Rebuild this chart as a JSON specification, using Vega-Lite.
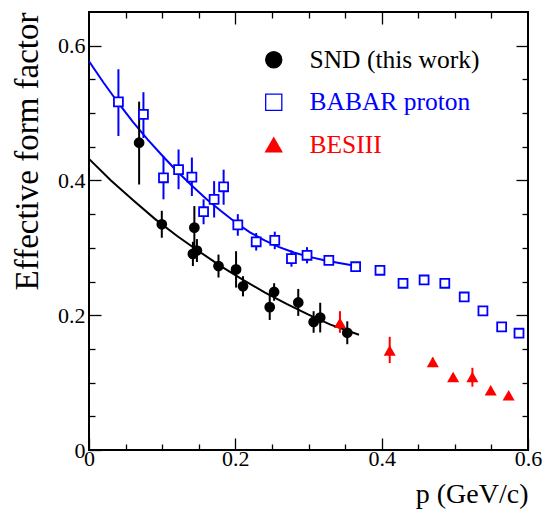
{
  "$schema": "https://vega.github.io/schema/vega-lite/v6.json",
  "width": 439,
  "height": 438,
  "autosize": {"type": "none"},
  "padding": {"left": 89, "top": 12, "right": 17, "bottom": 72},
  "background": "white",
  "config": {
    "font": "Liberation Serif",
    "view": {"stroke": "black", "strokeWidth": 2},
    "axis": {"domain": false, "grid": false, "labelFlush": false, "labelFont": "Liberation Serif", "labelFontSize": 22, "labelColor": "black", "tickColor": "black", "tickWidth": 1.3, "titleFont": "Liberation Serif", "titleFontWeight": "normal", "titleColor": "black"},
    "legend": {"padding": 0, "labelFont": "Liberation Serif", "labelFontSize": 25.5, "labelLimit": 400, "labelOffset": 23, "rowPadding": 15.5, "symbolSize": 260, "symbolStrokeWidth": 1.3}
  },
  "datasets": {
    "fitSND": [
      {"p": 0, "ff": 0.432}, {"p": 0.03, "ff": 0.400}, {"p": 0.06, "ff": 0.371}, {"p": 0.09, "ff": 0.343},
      {"p": 0.12, "ff": 0.318}, {"p": 0.15, "ff": 0.295}, {"p": 0.18, "ff": 0.273}, {"p": 0.21, "ff": 0.253},
      {"p": 0.24, "ff": 0.234}, {"p": 0.27, "ff": 0.217}, {"p": 0.30, "ff": 0.201}, {"p": 0.33, "ff": 0.186},
      {"p": 0.369, "ff": 0.171}
    ],
    "fitBABAR": [
      {"p": 0, "ff": 0.577}, {"p": 0.02, "ff": 0.545}, {"p": 0.04, "ff": 0.515}, {"p": 0.06, "ff": 0.487},
      {"p": 0.08, "ff": 0.461}, {"p": 0.10, "ff": 0.437}, {"p": 0.12, "ff": 0.414}, {"p": 0.14, "ff": 0.393},
      {"p": 0.16, "ff": 0.373}, {"p": 0.18, "ff": 0.355}, {"p": 0.20, "ff": 0.338}, {"p": 0.22, "ff": 0.323},
      {"p": 0.24, "ff": 0.311}, {"p": 0.26, "ff": 0.301}, {"p": 0.28, "ff": 0.293}, {"p": 0.30, "ff": 0.287},
      {"p": 0.32, "ff": 0.282}, {"p": 0.34, "ff": 0.278}, {"p": 0.365, "ff": 0.273}
    ],
    "points": [
      {"series": "SND (this work)", "p": 0.0685, "ff": 0.456, "lo": 0.394, "hi": 0.517},
      {"series": "SND (this work)", "p": 0.0995, "ff": 0.335, "lo": 0.315, "hi": 0.355},
      {"series": "SND (this work)", "p": 0.144, "ff": 0.330, "lo": 0.298, "hi": 0.362},
      {"series": "SND (this work)", "p": 0.142, "ff": 0.291, "lo": 0.273, "hi": 0.309},
      {"series": "SND (this work)", "p": 0.1475, "ff": 0.296, "lo": 0.279, "hi": 0.313},
      {"series": "SND (this work)", "p": 0.177, "ff": 0.273, "lo": 0.256, "hi": 0.290},
      {"series": "SND (this work)", "p": 0.201, "ff": 0.268, "lo": 0.241, "hi": 0.295},
      {"series": "SND (this work)", "p": 0.2105, "ff": 0.243, "lo": 0.228, "hi": 0.258},
      {"series": "SND (this work)", "p": 0.247, "ff": 0.212, "lo": 0.193, "hi": 0.231},
      {"series": "SND (this work)", "p": 0.253, "ff": 0.2345, "lo": 0.2215, "hi": 0.2475},
      {"series": "SND (this work)", "p": 0.286, "ff": 0.219, "lo": 0.199, "hi": 0.239},
      {"series": "SND (this work)", "p": 0.307, "ff": 0.190, "lo": 0.174, "hi": 0.206},
      {"series": "SND (this work)", "p": 0.316, "ff": 0.1965, "lo": 0.1745, "hi": 0.2185},
      {"series": "SND (this work)", "p": 0.353, "ff": 0.174, "lo": 0.157, "hi": 0.191},
      {"series": "BABAR proton", "p": 0.0402, "ff": 0.5166, "lo": 0.466, "hi": 0.565},
      {"series": "BABAR proton", "p": 0.0744, "ff": 0.498, "lo": 0.463, "hi": 0.531},
      {"series": "BABAR proton", "p": 0.1018, "ff": 0.404, "lo": 0.372, "hi": 0.436},
      {"series": "BABAR proton", "p": 0.1224, "ff": 0.416, "lo": 0.387, "hi": 0.446},
      {"series": "BABAR proton", "p": 0.1406, "ff": 0.405, "lo": 0.377, "hi": 0.434},
      {"series": "BABAR proton", "p": 0.1566, "ff": 0.3536, "lo": 0.335, "hi": 0.372},
      {"series": "BABAR proton", "p": 0.171, "ff": 0.372, "lo": 0.345, "hi": 0.399},
      {"series": "BABAR proton", "p": 0.184, "ff": 0.3906, "lo": 0.364, "hi": 0.416},
      {"series": "BABAR proton", "p": 0.2034, "ff": 0.334, "lo": 0.318, "hi": 0.350},
      {"series": "BABAR proton", "p": 0.2285, "ff": 0.309, "lo": 0.296, "hi": 0.322},
      {"series": "BABAR proton", "p": 0.2539, "ff": 0.311, "lo": 0.298, "hi": 0.324},
      {"series": "BABAR proton", "p": 0.2767, "ff": 0.284, "lo": 0.272, "hi": 0.296},
      {"series": "BABAR proton", "p": 0.298, "ff": 0.289, "lo": 0.277, "hi": 0.301},
      {"series": "BABAR proton", "p": 0.3278, "ff": 0.2815, "lo": 0.276, "hi": 0.287},
      {"series": "BABAR proton", "p": 0.3644, "ff": 0.272, "lo": 0.266, "hi": 0.278},
      {"series": "BABAR proton", "p": 0.3977, "ff": 0.2667, "lo": 0.261, "hi": 0.272},
      {"series": "BABAR proton", "p": 0.4292, "ff": 0.2474, "lo": 0.242, "hi": 0.253},
      {"series": "BABAR proton", "p": 0.458, "ff": 0.2523, "lo": 0.247, "hi": 0.258},
      {"series": "BABAR proton", "p": 0.4863, "ff": 0.2474, "lo": 0.242, "hi": 0.253},
      {"series": "BABAR proton", "p": 0.5128, "ff": 0.2271, "lo": 0.221, "hi": 0.233},
      {"series": "BABAR proton", "p": 0.5384, "ff": 0.2064, "lo": 0.201, "hi": 0.212},
      {"series": "BABAR proton", "p": 0.564, "ff": 0.1827, "lo": 0.177, "hi": 0.188},
      {"series": "BABAR proton", "p": 0.5877, "ff": 0.1733, "lo": 0.168, "hi": 0.179},
      {"series": "BESIII", "p": 0.343, "ff": 0.188, "lo": 0.174, "hi": 0.206},
      {"series": "BESIII", "p": 0.411, "ff": 0.147, "lo": 0.129, "hi": 0.168},
      {"series": "BESIII", "p": 0.4699, "ff": 0.130, "lo": 0.123, "hi": 0.137},
      {"series": "BESIII", "p": 0.4977, "ff": 0.1077, "lo": 0.104, "hi": 0.112},
      {"series": "BESIII", "p": 0.524, "ff": 0.1077, "lo": 0.094, "hi": 0.122},
      {"series": "BESIII", "p": 0.549, "ff": 0.088, "lo": 0.082, "hi": 0.094},
      {"series": "BESIII", "p": 0.5735, "ff": 0.0805, "lo": 0.077, "hi": 0.084}
    ]
  },
  "layer": [
    {
      "data": {"name": "fitSND"},
      "mark": {"type": "line", "stroke": "black", "strokeWidth": 2},
      "encoding": {
        "x": {"field": "p", "type": "quantitative", "scale": {"domain": [0, 0.6], "nice": false},
          "axis": {"orient": "bottom", "values": [0, 0.2, 0.4, 0.6], "format": "~g", "tickSize": -12, "labelPadding": 10,
            "title": "p (GeV/c)", "titleFontSize": 28, "titleAlign": "right", "titleAnchor": "end", "titleX": 439, "titleY": 52, "titleBaseline": "alphabetic"}},
        "y": {"field": "ff", "type": "quantitative", "scale": {"domain": [0, 0.65], "nice": false},
          "axis": {"orient": "left", "values": [0, 0.2, 0.4, 0.6], "format": "~g", "tickSize": -12, "labelPadding": 16,
            "title": "Effective form factor", "titleFontSize": 33, "titleAngle": -90, "titleAlign": "right", "titleAnchor": "end", "titleX": -52, "titleY": 0, "titleBaseline": "alphabetic"}}
      }
    },
    {
      "data": {"name": "fitBABAR"},
      "mark": {"type": "line", "stroke": "#0000ff", "strokeWidth": 2},
      "encoding": {
        "x": {"field": "p", "type": "quantitative", "scale": {"domain": [0, 0.6], "nice": false},
          "axis": {"orient": "bottom", "values": [0.05, 0.1, 0.15, 0.25, 0.3, 0.35, 0.45, 0.5, 0.55], "tickSize": -6, "labels": false, "title": null}},
        "y": {"field": "ff", "type": "quantitative", "scale": {"domain": [0, 0.65], "nice": false},
          "axis": {"orient": "left", "values": [0.05, 0.1, 0.15, 0.25, 0.3, 0.35, 0.45, 0.5, 0.55], "tickSize": -6, "labels": false, "title": null}}
      }
    },
    {
      "data": {"name": "points"},
      "mark": {"type": "rule", "strokeWidth": 2},
      "encoding": {
        "x": {"field": "p", "type": "quantitative", "scale": {"domain": [0, 0.6], "nice": false},
          "axis": {"orient": "top", "values": [0.2, 0.4], "tickSize": -12, "labels": false, "title": null}},
        "y": {"field": "lo", "type": "quantitative", "scale": {"domain": [0, 0.65], "nice": false},
          "axis": {"orient": "right", "values": [0.2, 0.4, 0.6], "tickSize": -12, "labels": false, "title": null}},
        "y2": {"field": "hi"},
        "color": {"field": "series", "type": "nominal", "scale": {"domain": ["BESIII", "BABAR proton", "SND (this work)"], "range": ["#ff0000", "#0000ff", "#000000"]}, "legend": null}
      }
    },
    {
      "data": {"name": "points"},
      "mark": {"type": "point", "filled": true, "size": 80, "strokeWidth": 1.8, "opacity": 1},
      "encoding": {
        "x": {"field": "p", "type": "quantitative", "scale": {"domain": [0, 0.6], "nice": false},
          "axis": {"orient": "top", "values": [0.05, 0.1, 0.15, 0.25, 0.3, 0.35, 0.45, 0.5, 0.55], "tickSize": -6, "labels": false, "title": null}},
        "y": {"field": "ff", "type": "quantitative", "scale": {"domain": [0, 0.65], "nice": false},
          "axis": {"orient": "right", "values": [0.05, 0.1, 0.15, 0.25, 0.3, 0.35, 0.45, 0.5, 0.55], "tickSize": -6, "labels": false, "title": null}},
        "shape": {"field": "series", "type": "nominal", "scale": {"domain": ["SND (this work)", "BABAR proton", "BESIII"], "range": ["circle", "square", "triangle-up"]},
          "legend": {"title": null, "orient": "none", "legendX": 172, "legendY": 35, "labelFont": {"expr": "'Liberation Serif'"}, "labelFontSize": 25.5, "labelLimit": 400, "labelOffset": 23, "rowPadding": 15.5, "symbolSize": 260, "symbolStrokeWidth": 1.3, "padding": 0,
            "labelColor": {"expr": "datum.label === 'BESIII' ? '#ff0000' : datum.label === 'BABAR proton' ? '#0000ff' : '#000000'"}}},
        "stroke": {"field": "series", "type": "nominal", "scale": {"domain": ["SND (this work)", "BABAR proton", "BESIII"], "range": ["#000000", "#0000ff", "#ff0000"]},
          "legend": {"title": null, "orient": "none", "legendX": 172, "legendY": 35, "labelFont": {"expr": "'Liberation Serif'"}, "labelFontSize": 25.5, "labelLimit": 400, "labelOffset": 23, "rowPadding": 15.5, "symbolSize": 260, "symbolStrokeWidth": 1.3, "padding": 0,
            "labelColor": {"expr": "datum.label === 'BESIII' ? '#ff0000' : datum.label === 'BABAR proton' ? '#0000ff' : '#000000'"}}},
        "fill": {"field": "series", "type": "nominal", "scale": {"domain": ["SND (this work)", "BABAR proton", "BESIII"], "range": ["#000000", "#ffffff", "#ff0000"]},
          "legend": {"title": null, "orient": "none", "legendX": 172, "legendY": 35, "labelFont": {"expr": "'Liberation Serif'"}, "labelFontSize": 25.5, "labelLimit": 400, "labelOffset": 23, "rowPadding": 15.5, "symbolSize": 260, "symbolStrokeWidth": 1.3, "padding": 0,
            "labelColor": {"expr": "datum.label === 'BESIII' ? '#ff0000' : datum.label === 'BABAR proton' ? '#0000ff' : '#000000'"}}}
      }
    }
  ],
  "resolve": {"scale": {"x": "independent", "y": "independent"}}
}
